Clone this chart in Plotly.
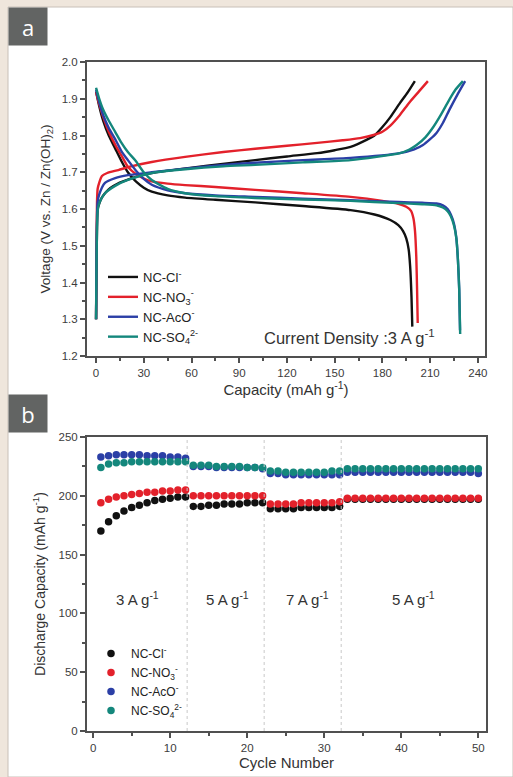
import plotly.graph_objects as go

W, H = 513, 777

# ---------------- Panel a: galvanostatic charge/discharge ----------------
names_a = ["NC-Cl<sup>-</sup>", "NC-NO<sub>3</sub><sup>-</sup>", "NC-AcO<sup>-</sup>", "NC-SO<sub>4</sub><sup>2-</sup>"]
colors = ["#111111", "#e3212b", "#2b3fa6", "#14877c"]

cl_dis_cap = [0, 2, 4.5, 8, 12, 16, 20, 25, 30, 35, 45, 56, 75, 100, 130, 160, 175, 185, 190, 193, 195, 196.5, 197.5, 198.3, 198.8]
cl_dis_v = [1.92, 1.88, 1.84, 1.80, 1.765, 1.73, 1.70, 1.675, 1.658, 1.647, 1.637, 1.631, 1.625, 1.618, 1.608, 1.597, 1.585, 1.57, 1.556, 1.54, 1.52, 1.49, 1.44, 1.36, 1.28]
cl_chg_cap = [0, 0.3, 0.6, 1, 2, 3.5, 5.6, 9, 14, 20, 27, 35, 50, 70, 100, 120, 139, 150, 160, 170, 175, 180, 185, 191, 196, 200.4]
cl_chg_v = [1.30, 1.45, 1.55, 1.60, 1.615, 1.63, 1.643, 1.657, 1.67, 1.68, 1.69, 1.698, 1.707, 1.718, 1.733, 1.743, 1.752, 1.76, 1.769, 1.788, 1.80, 1.823, 1.85, 1.888, 1.918, 1.948]

no3_dis_cap = [0, 2, 4.5, 8, 12, 16, 20, 25, 30, 35, 45, 56, 75, 100, 130, 160, 180, 190, 195, 198, 199.5, 200.5, 201.3, 201.8, 202.2]
no3_dis_v = [1.918, 1.885, 1.85, 1.81, 1.775, 1.745, 1.715, 1.695, 1.683, 1.675, 1.669, 1.665, 1.66, 1.652, 1.643, 1.633, 1.622, 1.614, 1.606, 1.595, 1.575, 1.54, 1.47, 1.38, 1.29]
no3_chg_cap = [0, 0.3, 0.6, 1, 2, 3.7, 7, 14, 22, 35, 56, 80, 100, 120, 139, 155, 166, 175, 180, 185, 191, 197, 203, 208.6]
no3_chg_v = [1.30, 1.50, 1.62, 1.655, 1.672, 1.69, 1.698, 1.706, 1.716, 1.728, 1.742, 1.755, 1.764, 1.772, 1.78, 1.787, 1.793, 1.802, 1.81, 1.827, 1.856, 1.89, 1.92, 1.948]

aco_dis_cap = [0, 2, 4.5, 8, 12, 16, 20, 25, 30, 35, 45, 56, 75, 100, 130, 160, 190, 205, 214, 218, 221, 223, 225, 226.5, 227.5, 228.3, 228.8]
aco_dis_v = [1.925, 1.89, 1.855, 1.82, 1.79, 1.757, 1.733, 1.705, 1.682, 1.666, 1.651, 1.643, 1.637, 1.633, 1.628, 1.624, 1.619, 1.617, 1.615, 1.61, 1.60, 1.585, 1.56, 1.52, 1.46, 1.38, 1.27]
aco_chg_cap = [0, 0.3, 0.6, 1, 2, 5.6, 12, 20, 35, 56, 80, 100, 130, 160, 191, 200, 205.5, 210, 214, 218, 222, 227, 232]
aco_chg_v = [1.30, 1.48, 1.58, 1.62, 1.64, 1.671, 1.684, 1.692, 1.70, 1.71, 1.72, 1.726, 1.733, 1.739, 1.752, 1.762, 1.774, 1.79, 1.807, 1.834, 1.869, 1.91, 1.948]

so4_dis_cap = [0, 2, 4.5, 8, 12, 16, 20, 24.5, 30, 35, 45, 56, 75, 100, 130, 160, 190, 205, 214, 218, 221, 223, 225, 226.5, 227.5, 228.3, 228.9]
so4_dis_v = [1.93, 1.90, 1.87, 1.84, 1.81, 1.78, 1.755, 1.733, 1.70, 1.679, 1.655, 1.643, 1.635, 1.63, 1.626, 1.622, 1.616, 1.613, 1.61, 1.604, 1.594, 1.58, 1.555, 1.52, 1.46, 1.38, 1.26]
so4_chg_cap = [0, 0.3, 0.6, 1, 2, 5.6, 12, 20, 35, 56, 80, 100, 130, 160, 191, 197, 201.5, 207, 212, 217, 222, 226, 230.6]
so4_chg_v = [1.30, 1.45, 1.55, 1.595, 1.616, 1.643, 1.663, 1.679, 1.698, 1.708, 1.716, 1.72, 1.727, 1.733, 1.752, 1.762, 1.774, 1.795, 1.823, 1.858, 1.897, 1.925, 1.948]

curves_a = [
    (cl_dis_cap, cl_dis_v, cl_chg_cap, cl_chg_v),
    (no3_dis_cap, no3_dis_v, no3_chg_cap, no3_chg_v),
    (aco_dis_cap, aco_dis_v, aco_chg_cap, aco_chg_v),
    (so4_dis_cap, so4_dis_v, so4_chg_cap, so4_chg_v),
]

# ---------------- Panel b: rate performance ----------------
cycles = list(range(1, 51))
cap_cl = [170, 178, 183, 187, 190, 192, 194, 196, 197, 198, 199, 199,
          191, 191, 192, 192, 193, 193, 193, 194, 194, 194,
          189, 189, 189, 189, 190, 190, 190, 190, 190, 191,
          197, 197, 197, 197, 197, 197, 197, 197, 197, 197, 197, 197, 197, 197, 197, 197, 197, 197]
cap_no3 = [194, 197, 199, 200, 201, 202, 203, 203, 204, 204, 205, 205,
           200, 200, 200, 200, 200, 200, 200, 200, 200, 200,
           193, 193, 193, 193, 194, 194, 194, 194, 194, 195,
           198, 198, 198, 198, 198, 198, 198, 198, 198, 198, 198, 198, 198, 198, 198, 198, 198, 198]
cap_aco = [233, 234, 235, 235, 235, 235, 234, 234, 234, 233, 233, 232,
           225, 225, 225, 224, 224, 224, 224, 224, 224, 223,
           219, 219, 218, 218, 218, 218, 218, 218, 218, 218,
           220, 220, 220, 220, 220, 220, 220, 220, 220, 220, 220, 220, 220, 220, 220, 220, 220, 219]
cap_so4 = [224, 227, 228, 228, 229, 229, 229, 229, 229, 229, 229, 229,
           226, 226, 226, 225, 225, 225, 225, 224, 224, 224,
           221, 221, 220, 220, 220, 220, 220, 220, 221, 221,
           223, 223, 223, 223, 223, 223, 223, 223, 223, 223, 223, 223, 223, 223, 223, 223, 223, 223]
series_b = [cap_cl, cap_no3, cap_aco, cap_so4]

rate_labels = ["3 A g<sup>-1</sup>", "5 A g<sup>-1</sup>", "7 A g<sup>-1</sup>", "5 A g<sup>-1</sup>"]
rate_label_x = [5.7, 17.5, 27.8, 41.6]
rate_dividers = [12.2, 22.2, 32.2]
panel_labels = ["a", "b"]

FONT = "Liberation Sans, Arial, sans-serif"
AX = "#505050"

fig = go.Figure()

for i, (dc, dv, cc, cv) in enumerate(curves_a):
    fig.add_trace(go.Scatter(
        x=dc + [None] + cc, y=dv + [None] + cv,
        mode="lines", line=dict(color=colors[i], width=2.4, shape="spline", smoothing=0.6),
        name=names_a[i], legend="legend", xaxis="x", yaxis="y"))

for i, vals in enumerate(series_b):
    fig.add_trace(go.Scatter(
        x=cycles, y=vals, mode="markers",
        marker=dict(color=colors[i], size=7.5),
        name=names_a[i], legend="legend2", xaxis="x2", yaxis="y2"))

def axis(title_size=14, **kw):
    d = dict(showline=True, linecolor=AX, linewidth=2, mirror=True,
             ticks="outside", ticklen=5, tickwidth=1.5, tickcolor=AX,
             showgrid=False, zeroline=False, automargin=False,
             tickfont=dict(family=FONT, size=11.5, color="#3c3c3c"),
             title_font=dict(family=FONT, size=title_size, color="#333"))
    d.update(kw)
    return d

shapes = [
    dict(type="rect", xref="paper", yref="paper", x0=8 / W, x1=1.0, y0=0, y1=1 - 7 / H,
         fillcolor="white", line=dict(color="#c8c0b8", width=1), layer="below"),
]
for xv in rate_dividers:
    shapes.append(dict(type="line", xref="x2", yref="y2 domain", x0=xv, x1=xv, y0=0, y1=1,
                       line=dict(color="#c8c8c8", width=1, dash="dot")))

annotations = []
for lab, ytop in zip(panel_labels, [7, 394]):
    annotations.append(dict(text=lab, xref="paper", yref="paper", x=8 / W, y=1 - ytop / H,
                            xanchor="left", yanchor="top", showarrow=False,
                            width=38, height=37, borderpad=0, bgcolor="#626463",
                            align="center", valign="middle",
                            font=dict(family="Open Sans, sans-serif", size=22, color="white")))
annotations.append(dict(text="Current Density :3 A g<sup>-1</sup>", xref="x", yref="y", x=104, y=1.252,
                        xanchor="left", showarrow=False, font=dict(family=FONT, size=16.5, color="#333")))
for t, xv in zip(rate_labels, rate_label_x):
    annotations.append(dict(text=t, xref="x2", yref="y2", x=xv, y=113, showarrow=False,
                            font=dict(family=FONT, size=15, color="#333")))

fig.update_layout(
    width=W, height=H, margin=dict(l=0, r=0, t=0, b=0, autoexpand=False),
    paper_bgcolor="#efe6dc", plot_bgcolor="white",
    xaxis=axis(title_size=15, domain=[87 / W, 485 / W], range=[-5.7, 244.5], anchor="y",
               dtick=30, tick0=0, minor=dict(dtick=15, ticklen=3, tickcolor=AX, ticks="outside"),
               title=dict(text="Capacity (mAh g<sup>-1</sup>)", standoff=2)),
    yaxis=axis(title_size=13.5, domain=[1 - 356 / H, 1 - 62 / H], range=[1.2, 2.0], anchor="x",
               dtick=0.1, tick0=1.2, tickformat=".1f",
               minor=dict(dtick=0.05, ticklen=3, tickcolor=AX, ticks="outside"),
               title=dict(text="Voltage (V vs. Zn / Zn(OH)<sub>2</sub>)", standoff=8)),
    xaxis2=axis(title_size=15, domain=[87 / W, 486 / W], range=[-0.8, 51], anchor="y2",
                dtick=10, tick0=0, minor=dict(dtick=5, ticklen=3, tickcolor=AX, ticks="outside"),
                title=dict(text="Cycle Number", standoff=2)),
    yaxis2=axis(title_size=14, domain=[1 - 731 / H, 1 - 437 / H], range=[0, 250], anchor="x2",
                dtick=50, tick0=0, minor=dict(dtick=25, ticklen=3, tickcolor=AX, ticks="outside"),
                title=dict(text="Discharge Capacity (mAh g<sup>-1</sup>)", standoff=10)),
    legend=dict(x=103 / W, y=1 - 262 / H, xanchor="left", yanchor="top",
                bgcolor="rgba(0,0,0,0)", font=dict(family=FONT, size=13, color="#222"),
                tracegroupgap=0),
    legend2=dict(x=91 / W, y=1 - 639 / H, xanchor="left", yanchor="top", itemwidth=30,
                 bgcolor="rgba(0,0,0,0)", font=dict(family=FONT, size=12, color="#222")),
    shapes=shapes, annotations=annotations,
)

fig.write_html("out.html", config={"displayModeBar": False})
